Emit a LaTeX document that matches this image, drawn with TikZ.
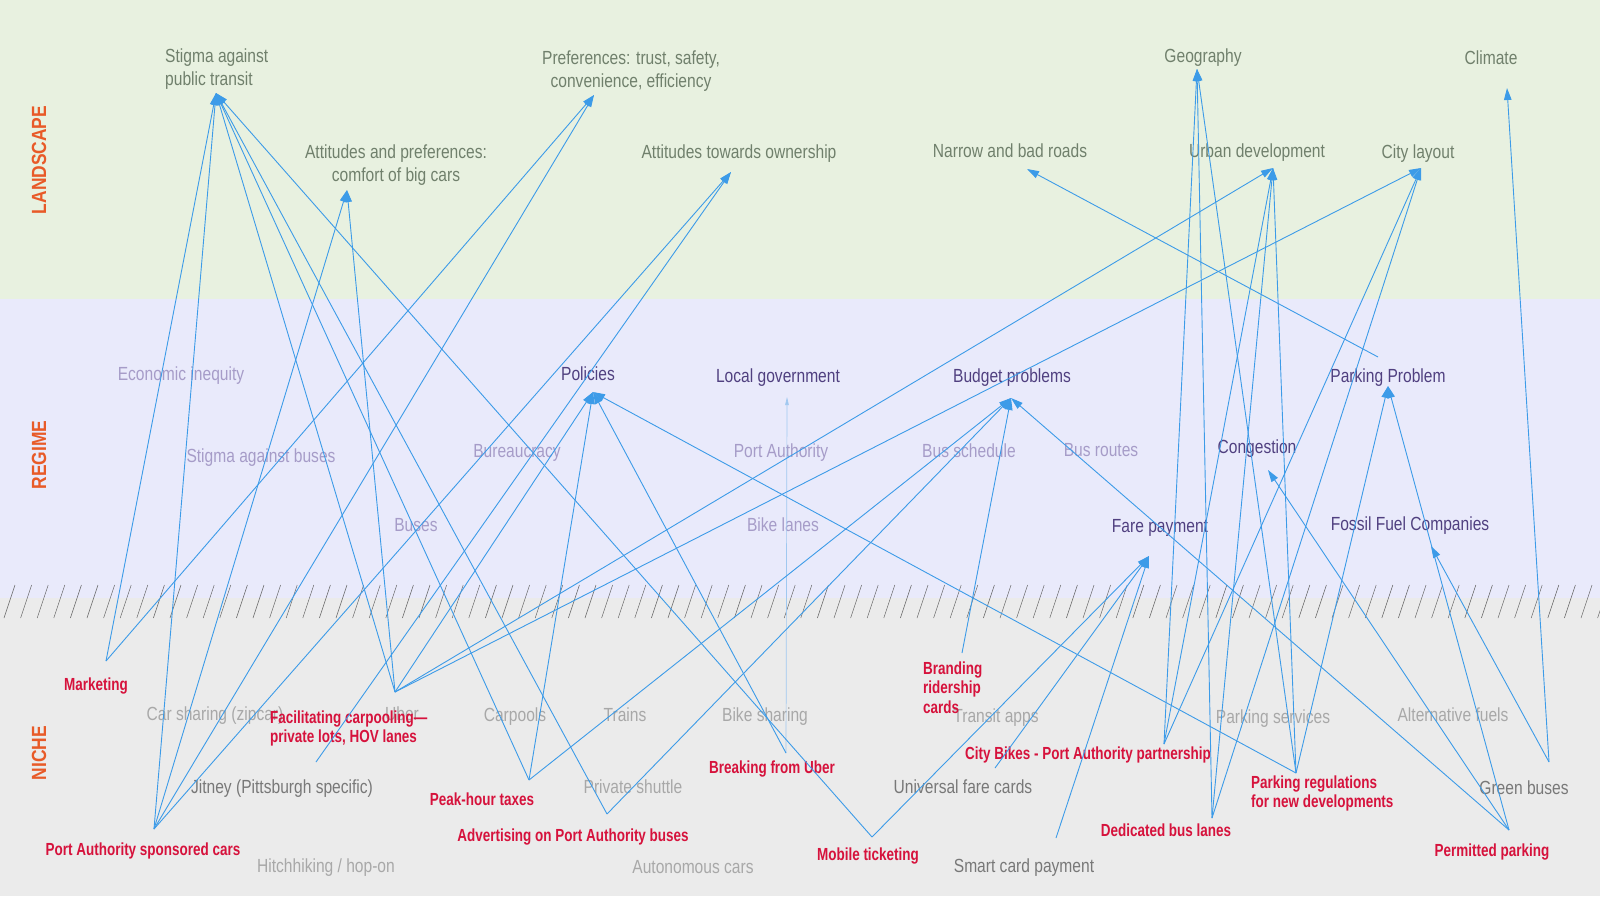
\documentclass[tikz,border=0pt]{standalone}
\usepackage{fontspec}
\setmainfont{Liberation Sans}[FakeStretch=0.82]
\newfontfamily\zonefont{Liberation Sans}[FakeStretch=0.85]
\newfontfamily\redfont{Liberation Sans}[FakeStretch=0.77]
\usetikzlibrary{arrows.meta}
\definecolor{bgL}{RGB}{232,241,224}
\definecolor{bgR}{RGB}{233,234,251}
\definecolor{bgN}{RGB}{235,235,235}
\definecolor{landtxt}{RGB}{112,128,108}
\definecolor{regdark}{RGB}{80,64,128}
\definecolor{reglight}{RGB}{166,156,200}
\definecolor{nichemid}{RGB}{120,120,120}
\definecolor{nichelight}{RGB}{168,168,168}
\definecolor{nichered}{RGB}{214,18,60}
\definecolor{zoneorange}{RGB}{232,90,40}
\definecolor{linkblue}{RGB}{60,155,232}
\definecolor{faintblue}{RGB}{160,200,240}
\definecolor{hatchgray}{RGB}{100,100,100}
\begin{document}
\begin{tikzpicture}[x=1pt,y=-1pt,
  txt/.style={font=\fontsize{19}{23}\selectfont, inner sep=0pt, anchor=base},
  land/.style={txt, text=landtxt},
  regd/.style={txt, text=regdark},
  regl/.style={txt, text=reglight},
  nmid/.style={txt, text=nichemid},
  nlight/.style={txt, text=nichelight},
  nred/.style={font=\fontsize{17.5}{19.6}\redfont\bfseries, text=nichered, inner sep=0pt, anchor=base},
  zone/.style={font=\fontsize{20.5}{24}\zonefont\bfseries, text=zoneorange, inner sep=0pt, rotate=90},
  link/.style={draw=linkblue, line width=0.9pt, -{Triangle[length=12pt,width=7.5pt]}},
  faint/.style={draw=faintblue, line width=0.7pt, -{Triangle[length=8pt,width=3.5pt]}},
  hatch/.style={draw=hatchgray, line width=0.5pt}
]
\useasboundingbox (0,0) rectangle (1600,900);
% background bands
\fill[white] (0,0) rectangle (1600,900);
\fill[bgL] (0,0) rectangle (1600,299);
\fill[bgR] (0,299) rectangle (1600,598);
\fill[bgN] (0,598) rectangle (1600,896);
\foreach \i in {0,...,97} \draw[hatch] ({\i*16.6+4},618) -- ({\i*16.6+15},585);

% zone labels
\node[zone] (zland) at (39,160) {LANDSCAPE};
\node[zone] (zreg) at (39,455) {REGIME};
\node[zone] (zniche) at (39,753) {NICHE};

% landscape
\node[land, anchor=base west] (stigma) at (165,62) {\begin{tabular}[t]{@{}l@{}}Stigma against\\public transit\end{tabular}};
\node[land] (pref) at (631,64) {\begin{tabular}[t]{@{}c@{}}Preferences: trust, safety,\\convenience, efficiency\end{tabular}};
\node[land] (comfort) at (396,158) {\begin{tabular}[t]{@{}c@{}}Attitudes and preferences:\\comfort of big cars\end{tabular}};
\node[land] (own) at (739,158) {Attitudes towards ownership};
\node[land] (geo) at (1203,62) {Geography};
\node[land] (clim) at (1491,64) {Climate};
\node[land] (roads) at (1010,157) {Narrow and bad roads};
\node[land] (urban) at (1257,157) {Urban development};
\node[land] (city) at (1418,158) {City layout};

% regime
\node[regl] (econ) at (181,380) {Economic inequity};
\node[regl] (sbus) at (261,462) {Stigma against buses};
\node[regl] (bureau) at (517,457) {Bureaucracy};
\node[regl] (buses) at (416,531) {Buses};
\node[regd] (policies) at (588,380) {Policies};
\node[regd] (localgov) at (778,382) {Local government};
\node[regl] (portauth) at (781,457) {Port Authority};
\node[regl] (bikelanes) at (783,531) {Bike lanes};
\node[regd] (budget) at (1012,382) {Budget problems};
\node[regl] (busched) at (969,457) {Bus schedule};
\node[regl] (busroutes) at (1101,456) {Bus routes};
\node[regd] (congestion) at (1257,453) {Congestion};
\node[regd] (parkprob) at (1388,382) {Parking Problem};
\node[regd] (fare) at (1160,532) {Fare payment};
\node[regd] (fossil) at (1410,530) {Fossil Fuel Companies};

% niche (gray)
\node[nlight] (carshare) at (215,720) {Car sharing (zipcar)};
\node[nlight] (uber) at (402,720) {Uber};
\node[nlight] (carpools) at (515,721) {Carpools};
\node[nlight] (trains) at (625,721) {Trains};
\node[nlight] (bikeshare) at (765,721) {Bike sharing};
\node[nlight] (transitapps) at (996,722) {Transit apps};
\node[nlight] (parkserv) at (1273,723) {Parking services};
\node[nlight] (altfuels) at (1453,721) {Alternative fuels};
\node[nmid] (jitney) at (282,793) {Jitney (Pittsburgh specific)};
\node[nlight] (shuttle) at (633,793) {Private shuttle};
\node[nmid] (univfare) at (963,793) {Universal fare cards};
\node[nmid] (greenbus) at (1524,794) {Green buses};
\node[nlight] (hitch) at (326,872) {Hitchhiking / hop-on};
\node[nlight] (autocars) at (693,873) {Autonomous cars};
\node[nmid] (smartcard) at (1024,872) {Smart card payment};

% niche (red)
\node[nred] (marketing) at (96,690) {Marketing};
\node[nred, anchor=base west] (carpool) at (270,723) {\begin{tabular}[t]{@{}l@{}}Facilitating carpooling—\\private lots, HOV lanes\end{tabular}};
\node[nred] (peak) at (482,805) {Peak-hour taxes};
\node[nred] (advert) at (573,841) {Advertising on Port Authority buses};
\node[nred] (pacars) at (143,855) {Port Authority sponsored cars};
\node[nred] (breakuber) at (772,773) {Breaking from Uber};
\node[nred] (mobile) at (868,860) {Mobile ticketing};
\node[nred, anchor=base west] (branding) at (923,674) {\begin{tabular}[t]{@{}l@{}}Branding\\ridership\\cards\end{tabular}};
\node[nred] (citybikes) at (1088,759) {City Bikes - Port Authority partnership};
\node[nred] (dedlanes) at (1166,836) {Dedicated bus lanes};
\node[nred, anchor=base west] (parkreg) at (1251,788) {\begin{tabular}[t]{@{}l@{}}Parking regulations\\for new developments\end{tabular}};
\node[nred] (permit) at (1492,856) {Permitted parking};

% arrow targets
\coordinate (stigmaT) at (216,93);
\coordinate (prefT) at (594,95);
\coordinate (comfortT) at (347,190);
\coordinate (ownT) at (731,172);
\coordinate (geoT) at (1197,69);
\coordinate (climT) at (1507,88);
\coordinate (roadsT) at (1027,169);
\coordinate (urbanT) at (1273,168);
\coordinate (cityT) at (1421,168);
\coordinate (policiesT) at (593,392);
\coordinate (localT) at (787,397);
\coordinate (budgetT) at (1011,398);
\coordinate (congT) at (1268,470);
\coordinate (ppT) at (1388,386);
\coordinate (fareT) at (1149,556);
\coordinate (fossilT) at (1431,546);
% origins
\coordinate (mktO) at (106,661);
\coordinate (paO) at (154,829);
\coordinate (carpO) at (395,692);
\coordinate (jitO) at (316,762);
\coordinate (peakO) at (529,780);
\coordinate (advO) at (607,814);
\coordinate (uberO) at (786,753);
\coordinate (mobO) at (872,837);
\coordinate (brandO) at (962,653);
\coordinate (cbO) at (1164,744);
\coordinate (univO) at (995,768);
\coordinate (smartO) at (1056,838);
\coordinate (dedO) at (1212,818);
\coordinate (prO) at (1296,773);
\coordinate (permO) at (1509,830);
\coordinate (greenO) at (1549,762);
\coordinate (ppO) at (1378,357);

% connectors
\draw[faint] (uberO) -- (localT);
\draw[link] (mktO) -- (stigmaT);
\draw[link] (mktO) -- (prefT);
\draw[link] (paO) -- (stigmaT);
\draw[link] (paO) -- (comfortT);
\draw[link] (paO) -- (prefT);
\draw[link] (paO) -- (ownT);
\draw[link] (carpO) -- (stigmaT);
\draw[link] (carpO) -- (comfortT);
\draw[link] (carpO) -- (policiesT);
\draw[link] (carpO) -- (urbanT);
\draw[link] (carpO) -- (cityT);
\draw[link] (jitO) -- (ownT);
\draw[link] (peakO) -- (stigmaT);
\draw[link] (peakO) -- (policiesT);
\draw[link] (peakO) -- (budgetT);
\draw[link] (advO) -- (stigmaT);
\draw[link] (advO) -- (budgetT);
\draw[link] (uberO) -- (policiesT);
\draw[link] (mobO) -- (stigmaT);
\draw[link] (mobO) -- (fareT);
\draw[link] (brandO) -- (budgetT);
\draw[link] (cbO) -- (geoT);
\draw[link] (cbO) -- (urbanT);
\draw[link] (cbO) -- (cityT);
\draw[link] (univO) -- (fareT);
\draw[link] (smartO) -- (fareT);
\draw[link] (dedO) -- (geoT);
\draw[link] (dedO) -- (urbanT);
\draw[link] (dedO) -- (cityT);
\draw[link] (prO) -- (policiesT);
\draw[link] (prO) -- (geoT);
\draw[link] (prO) -- (urbanT);
\draw[link] (prO) -- (ppT);
\draw[link] (permO) -- (budgetT);
\draw[link] (permO) -- (congT);
\draw[link] (permO) -- (ppT);
\draw[link] (greenO) -- (fossilT);
\draw[link] (greenO) -- (climT);
\draw[link] (ppO) -- (roadsT);
\end{tikzpicture}
\end{document}
